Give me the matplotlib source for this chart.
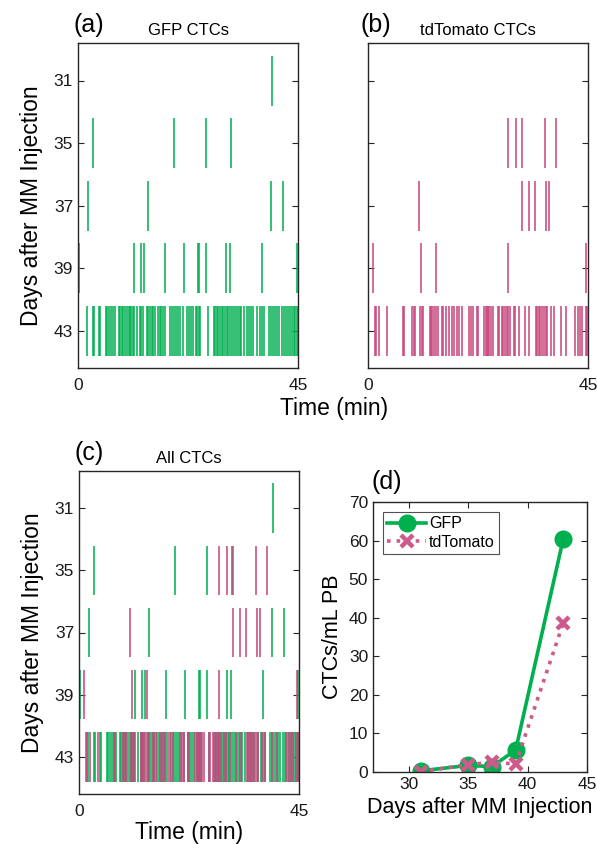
import numpy as np
import matplotlib
matplotlib.use('Agg')
import matplotlib.pyplot as plt

plt.rcParams['font.family'] = ['Liberation Sans', 'DejaVu Sans']

days = [31, 35, 37, 39, 43]

# GFP CTC detection times (min) per day
gfp_d31 = [39.7]
gfp_d35 = [3.1, 19.6, 26.1, 31.2]
gfp_d37 = [2.1, 14.4, 39.4, 41.9]
gfp_d39 = [0.2, 11.4, 12.8, 13.6, 17.7, 21.6, 24.5, 24.75, 26.2, 30.3, 31.0, 37.6, 44.7]
gfp_d43 = [1.78, 3.0, 3.35, 4.24, 4.45, 5.68, 5.95, 6.29, 6.7, 7.11, 7.52, 8.41, 8.69,
           8.96, 9.3, 9.64, 9.99, 10.33, 10.6, 10.88, 11.15, 11.49, 11.97, 12.59, 12.93,
           13.34, 14.02, 14.3, 14.64, 15.05, 15.39, 15.8, 16.35, 16.69, 17.03, 17.44,
           17.85, 18.81, 19.29, 19.63, 19.97, 20.38, 20.86, 21.41, 22.23, 22.64, 23.12,
           23.6, 24.08, 24.35, 24.69, 24.97, 26.68, 27.77, 28.04, 28.39, 28.73, 29.07,
           29.41, 29.69, 30.03, 30.44, 30.78, 31.12, 31.46, 31.81, 32.22, 32.63, 33.04,
           33.31, 33.99, 34.54, 34.95, 35.36, 35.84, 36.66, 37.21, 37.69, 38.03, 39.06,
           39.47, 39.88, 40.29, 40.7, 41.04, 41.79, 42.13, 42.54, 43.02, 43.43, 43.78,
           44.12, 44.46, 44.8, 44.95]

# tdTomato CTC detection times (min) per day
tdt_d31 = []
tdt_d35 = [28.6, 30.2, 31.5, 36.3, 38.4]
tdt_d37 = [10.5, 31.4, 33.0, 34.2, 36.4, 37.0]
tdt_d39 = [1.0, 10.9, 13.9, 28.7, 44.5]
tdt_d43 = [1.36, 1.70, 2.24, 3.87, 7.07, 7.41, 8.97, 9.31, 9.65, 10.67, 11.01, 11.22,
           12.64, 12.92, 13.19, 13.53, 13.94, 14.41, 15.09, 15.43, 15.91, 16.66, 17.13,
           17.61, 18.15, 18.56, 19.31, 20.6, 21.01, 21.41, 22.23, 22.57, 23.79, 24.07,
           24.27, 24.54, 24.81, 25.09, 25.56, 26.51, 26.85, 27.33, 27.67, 27.94, 28.35,
           28.69, 28.96, 29.78, 30.05, 30.8, 32.16, 32.97, 34.33, 34.6, 34.94, 35.28,
           35.62, 36.03, 36.37, 36.64, 37.46, 38.14, 39.57, 40.52, 42.36, 42.97, 43.44,
           43.85, 44.53, 44.8]

# CTCs/mL PB
gfp_conc = [0.3, 1.7, 1.4, 5.7, 60.4]
tdt_conc = [0.1, 1.9, 2.5, 2.1, 38.6]

green = '#00b04f'
pink = '#c8467e'
frame = '#262626'

gfp_rows = [gfp_d31, gfp_d35, gfp_d37, gfp_d39, gfp_d43]
tdt_rows = [tdt_d31, tdt_d35, tdt_d37, tdt_d39, tdt_d43]
offsets = np.arange(1, len(days) + 1)

W, H = 597, 844
fig = plt.figure(figsize=(W / 100, H / 100), dpi=100)


def box(l, t, r, b):
    return [l / W, 1 - b / H, (r - l) / W, (b - t) / H]


def style(ax):
    for s in ax.spines.values():
        s.set_color(frame)
        s.set_linewidth(1.0)
    ax.tick_params(direction='in', length=4, width=0.8, colors=frame,
                   labelsize=12.5, labelcolor='#1a1a1a', top=True, right=True)


def raster(ax, rows_list, colors, labels=True):
    for rows, c in zip(rows_list, colors):
        for off, t in zip(offsets, rows):
            if len(t):
                ax.eventplot(t, lineoffsets=off, linelengths=0.8,
                             linewidths=1.4, colors=c, alpha=0.8)
    ax.set_xlim(0, 45)
    ax.set_ylim(5.6, 0.4)
    ax.set_xticks([0, 45])
    ax.set_yticks(offsets)
    if labels:
        ax.set_yticklabels([str(d) for d in days])
    else:
        ax.set_yticklabels([])
    style(ax)
    ax.tick_params(axis='x', top=False, bottom=False, pad=7)


ax_a = fig.add_axes(box(78, 43, 298, 368))
raster(ax_a, [gfp_rows], [green])
ax_a.set_title('GFP CTCs', fontsize=12, pad=6)
ax_a.set_ylabel('Days after MM Injection', fontsize=16.5, labelpad=8)

ax_b = fig.add_axes(box(368, 43, 588, 368))
raster(ax_b, [tdt_rows], [pink], labels=False)
ax_b.set_title('tdTomato CTCs', fontsize=12, pad=6)

fig.text(334 / W, 1 - 408 / H, 'Time (min)', fontsize=16.5, ha='center', va='center')

ax_c = fig.add_axes(box(79, 471, 299, 794))
raster(ax_c, [gfp_rows, tdt_rows], [green, pink])
ax_c.set_title('All CTCs', fontsize=12, pad=6)
ax_c.set_ylabel('Days after MM Injection', fontsize=16.5, labelpad=8)
ax_c.set_xlabel('Time (min)', fontsize=16.5, labelpad=2)

ax_d = fig.add_axes(box(373, 502, 587, 772))
ax_d.plot(days, gfp_conc, '-o', color=green, lw=2.6, ms=12, label='GFP')
ax_d.plot(days, tdt_conc, ':x', color='#cc5a8a', lw=2.6, ms=9, mew=3.2, label='tdTomato')
ax_d.set_xlim(27, 45)
ax_d.set_ylim(0, 70)
ax_d.set_xticks([30, 35, 40, 45])
ax_d.set_yticks(np.arange(0, 71, 10))
style(ax_d)
ax_d.set_ylabel('CTCs/mL PB', fontsize=15.5, labelpad=4)
ax_d.set_xlabel('Days after MM Injection', fontsize=15.5, labelpad=4)
leg = ax_d.legend(loc='upper left', fontsize=11.5, frameon=True, fancybox=False,
                  borderpad=0.3, handlelength=2.4, handletextpad=0.2,
                  labelspacing=0.2, borderaxespad=0.6)
leg.get_frame().set_edgecolor(frame)
leg.get_frame().set_linewidth(0.8)

for txt, x, y in [('(a)', 89, 25), ('(b)', 376, 25), ('(c)', 89, 453), ('(d)', 387, 482)]:
    fig.text(x / W, 1 - y / H, txt, fontsize=18, ha='center', va='center')

fig.savefig('out.png', dpi=100)
